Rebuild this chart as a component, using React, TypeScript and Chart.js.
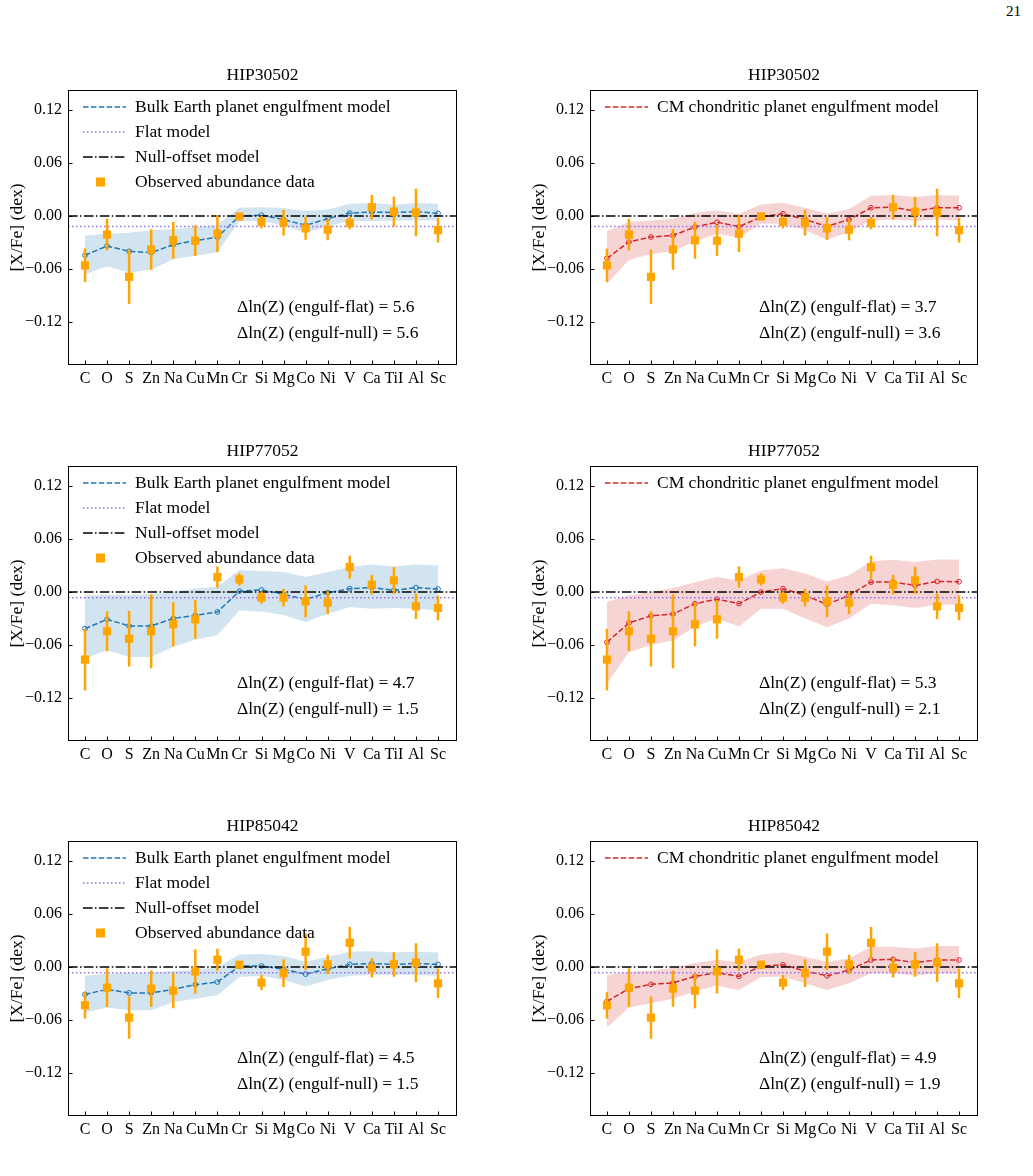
import React, { useEffect, useRef } from 'react';
import { Chart, registerables } from 'chart.js';

Chart.register(...registerables);

// ---------------- data ----------------
const elements = ['C', 'O', 'S', 'Zn', 'Na', 'Cu', 'Mn', 'Cr', 'Si', 'Mg', 'Co', 'Ni', 'V', 'Ca', 'TiI', 'Al', 'Sc'];
const yTickValues = [-0.12, -0.06, 0, 0.06, 0.12];

// HIP30502
const obsHIP30502 = [-0.056, -0.021, -0.069, -0.038, -0.0275, -0.028, -0.020, -0.0005, -0.0068, -0.0075, -0.014, -0.0155, -0.008, 0.010, 0.005, 0.004, -0.016];
const errHIP30502 = [0.019, 0.018, 0.031, 0.023, 0.021, 0.0175, 0.021, 0.004, 0.0072, 0.0147, 0.013, 0.012, 0.007, 0.014, 0.017, 0.027, 0.014];
const bulkHIP30502 = [-0.0445, -0.034, -0.040, -0.0415, -0.0325, -0.028, -0.024, 0.0, 0.001, -0.004, -0.0105, -0.003, 0.0034, 0.0045, 0.004, 0.005, 0.003];
const bulkHiHIP30502 = [-0.022, -0.020, -0.019, -0.016, -0.015, -0.0125, -0.010, 0.0094, 0.010, 0.009, 0.0057, 0.0075, 0.014, 0.0147, 0.0128, 0.0147, 0.014];
const bulkLoHIP30502 = [-0.066, -0.057, -0.064, -0.061, -0.049, -0.045, -0.041, -0.0057, -0.006, -0.0105, -0.019, -0.0117, -0.0057, -0.0057, -0.005, -0.005, -0.005];
const cmHIP30502 = [-0.048, -0.0294, -0.0238, -0.022, -0.0125, -0.007, -0.012, -0.001, 0.0026, -0.004, -0.0117, -0.004, 0.0094, 0.010, 0.0057, 0.0094, 0.0094];
const cmHiHIP30502 = [-0.017, -0.0068, -0.005, -0.003, 0.0038, 0.0064, 0.0026, 0.013, 0.015, 0.0094, 0.0026, 0.008, 0.023, 0.024, 0.0215, 0.024, 0.023];
const cmLoHIP30502 = [-0.077, -0.050, -0.043, -0.040, -0.029, -0.020, -0.0245, -0.0087, -0.0087, -0.016, -0.027, -0.018, -0.005, -0.004, -0.0057, -0.004, -0.005];
const flatHIP30502 = -0.012;

// HIP77052
const obsHIP77052 = [-0.0766, -0.0445, -0.053, -0.0445, -0.0366, -0.031, 0.017, 0.0143, -0.0062, -0.0064, -0.0106, -0.012, 0.0283, 0.0083, 0.0132, -0.0162, -0.018];
const errHIP77052 = [0.035, 0.0226, 0.0315, 0.042, 0.025, 0.022, 0.012, 0.007, 0.007, 0.010, 0.018, 0.013, 0.013, 0.011, 0.0153, 0.0145, 0.014];
const bulkHIP77052 = [-0.0415, -0.031, -0.0385, -0.0385, -0.030, -0.0264, -0.0226, 0.001, 0.0024, -0.0026, -0.0083, -0.0008, 0.0038, 0.005, 0.002, 0.005, 0.0034];
const bulkHiHIP77052 = [-0.004, -0.003, -0.003, -0.0026, 0.0, 0.004, 0.006, 0.025, 0.024, 0.0226, 0.017, 0.0226, 0.0283, 0.0313, 0.029, 0.0313, 0.030];
const bulkLoHIP77052 = [-0.0755, -0.066, -0.0736, -0.0736, -0.062, -0.054, -0.049, -0.0208, -0.022, -0.026, -0.034, -0.025, -0.017, -0.019, -0.018, -0.019, -0.021];
const cmHIP77052 = [-0.057, -0.035, -0.027, -0.025, -0.0132, -0.008, -0.0132, 0.0, 0.0038, -0.0038, -0.014, -0.0038, 0.0113, 0.0113, 0.0075, 0.012, 0.0117];
const cmHiHIP77052 = [-0.011, -0.004, 0.0, 0.0045, 0.011, 0.017, 0.013, 0.0245, 0.027, 0.021, 0.012, 0.019, 0.035, 0.0366, 0.034, 0.037, 0.037];
const cmLoHIP77052 = [-0.104, -0.068, -0.060, -0.055, -0.039, -0.030, -0.039, -0.019, -0.019, -0.030, -0.040, -0.030, -0.0132, -0.015, -0.018, -0.0143, -0.014];
const flatHIP77052 = -0.0065;

// HIP85042
const obsHIP85042 = [-0.0434, -0.0234, -0.0574, -0.0245, -0.0268, -0.005, 0.0083, 0.0026, -0.0176, -0.007, 0.0174, 0.003, 0.0275, -0.0008, 0.003, 0.005, -0.0185];
const errHIP85042 = [0.015, 0.022, 0.024, 0.0207, 0.020, 0.025, 0.0126, 0.003, 0.0085, 0.0157, 0.0207, 0.011, 0.018, 0.011, 0.014, 0.022, 0.0166];
const bulkHIP85042 = [-0.031, -0.0253, -0.0294, -0.0294, -0.0253, -0.020, -0.017, 0.001, 0.0013, -0.0026, -0.008, -0.002, 0.003, 0.004, 0.003, 0.004, 0.003];
const bulkHiHIP85042 = [-0.010, -0.0075, -0.0068, -0.0064, -0.0045, -0.003, 0.0, 0.0143, 0.0148, 0.0125, 0.006, 0.0117, 0.0174, 0.018, 0.0166, 0.0174, 0.0166];
const bulkLoHIP85042 = [-0.052, -0.046, -0.049, -0.049, -0.040, -0.036, -0.032, -0.0113, -0.010, -0.0147, -0.022, -0.0147, -0.010, -0.009, -0.009, -0.009, -0.010];
const cmHIP85042 = [-0.039, -0.0245, -0.0196, -0.018, -0.0106, -0.0064, -0.0106, 0.001, 0.0026, -0.0045, -0.010, -0.0034, 0.008, 0.0087, 0.005, 0.008, 0.008];
const cmHiHIP85042 = [-0.0094, -0.0057, -0.0038, -0.001, 0.0045, 0.0083, 0.0057, 0.0143, 0.0166, 0.0117, 0.006, 0.0098, 0.023, 0.023, 0.021, 0.0238, 0.0238];
const cmLoHIP85042 = [-0.0687, -0.046, -0.041, -0.036, -0.0275, -0.0208, -0.0264, -0.0113, -0.011, -0.0185, -0.026, -0.0185, -0.007, -0.007, -0.010, -0.007, -0.007];
const flatHIP85042 = -0.0065;

// Bayesian evidence differences
const dFlatBulk = ['5.6', '4.7', '4.5'];
const dNullBulk = ['5.6', '1.5', '1.5'];
const dFlatCM = ['3.7', '5.3', '4.9'];
const dNullCM = ['3.6', '2.1', '1.9'];

// ---------------- style ----------------
const FONT = "'Liberation Serif', 'Times New Roman', 'DejaVu Serif', serif";
const ORANGE = '#FFA500';
const BLUE = '#1f77b4';
const RED = '#d62728';
const PURPLE = '#9370DB';
const XMIN = -0.77;
const XMAX = 16.86;
const YMIN = -0.169;
const YMAX = 0.143;
const AX_H = 275;
const PAD_L = 68;
const PAD_T = 40;
const PAD_R = 12;
const PAD_B = 30;
const TICK_FONT = 16;
const TEXT_FONT = 17.5;

const DASHED = [5.5, 2.4];
const DOTTED = [1.5, 2.5];
const DASHDOT = [9.6, 2.4, 1.5, 2.4];

type PanelDef = {
  star: string;
  kind: 'bulk' | 'cm';
  obs: number[];
  err: number[];
  model: number[];
  hi: number[];
  lo: number[];
  flat: number;
  dFlat: string;
  dNull: string;
  axLeft: number;
  axTop: number;
  axW: number;
};

const rows = [
  { star: 'HIP30502', obs: obsHIP30502, err: errHIP30502, bulk: bulkHIP30502, bulkHi: bulkHiHIP30502, bulkLo: bulkLoHIP30502, cm: cmHIP30502, cmHi: cmHiHIP30502, cmLo: cmLoHIP30502, flat: flatHIP30502 },
  { star: 'HIP77052', obs: obsHIP77052, err: errHIP77052, bulk: bulkHIP77052, bulkHi: bulkHiHIP77052, bulkLo: bulkLoHIP77052, cm: cmHIP77052, cmHi: cmHiHIP77052, cmLo: cmLoHIP77052, flat: flatHIP77052 },
  { star: 'HIP85042', obs: obsHIP85042, err: errHIP85042, bulk: bulkHIP85042, bulkHi: bulkHiHIP85042, bulkLo: bulkLoHIP85042, cm: cmHIP85042, cmHi: cmHiHIP85042, cmLo: cmLoHIP85042, flat: flatHIP85042 },
];
const rowTops = [90, 466, 841];

const panels: PanelDef[] = [];
rows.forEach((r, i) => {
  panels.push({ star: r.star, kind: 'bulk', obs: r.obs, err: r.err, model: r.bulk, hi: r.bulkHi, lo: r.bulkLo, flat: r.flat, dFlat: dFlatBulk[i], dNull: dNullBulk[i], axLeft: 68, axTop: rowTops[i], axW: 389 });
  panels.push({ star: r.star, kind: 'cm', obs: r.obs, err: r.err, model: r.cm, hi: r.cmHi, lo: r.cmLo, flat: r.flat, dFlat: dFlatCM[i], dNull: dNullCM[i], axLeft: 590, axTop: rowTops[i], axW: 388 });
});

const fmtY = (v: number) => {
  if (Math.abs(v) < 1e-9) return '0.00';
  return (v < 0 ? '\u2212' : '') + Math.abs(v).toFixed(2);
};

function makeDecor(p: PanelDef) {
  const color = p.kind === 'bulk' ? BLUE : RED;
  const legend =
    p.kind === 'bulk'
      ? [
          { t: 'line', c: BLUE, d: DASHED, w: 1.5, label: 'Bulk Earth planet engulfment model' },
          { t: 'line', c: PURPLE, d: DOTTED, w: 1.5, label: 'Flat model' },
          { t: 'line', c: '#000000', d: DASHDOT, w: 1.5, label: 'Null-offset model' },
          { t: 'square', c: ORANGE, d: [], w: 0, label: 'Observed abundance data' },
        ]
      : [{ t: 'line', c: color, d: DASHED, w: 1.5, label: 'CM chondritic planet engulfment model' }];
  return {
    id: 'decor-' + p.star + p.kind,
    afterDatasetsDraw(chart: any) {
      const { ctx, chartArea: a, scales } = chart;
      const xs = scales.x;
      const ys = scales.y;
      ctx.save();
      ctx.beginPath();
      ctx.rect(a.left, a.top, a.right - a.left, a.bottom - a.top);
      ctx.clip();
      ctx.strokeStyle = ORANGE;
      ctx.lineWidth = 2.5;
      ctx.setLineDash([]);
      p.obs.forEach((v, i) => {
        const x = xs.getPixelForValue(i);
        ctx.beginPath();
        ctx.moveTo(x, ys.getPixelForValue(v - p.err[i]));
        ctx.lineTo(x, ys.getPixelForValue(v + p.err[i]));
        ctx.stroke();
      });
      ctx.restore();
    },
    afterDraw(chart: any) {
      const { ctx, chartArea: a, scales } = chart;
      const xs = scales.x;
      const ys = scales.y;
      ctx.save();
      ctx.setLineDash([]);
      ctx.strokeStyle = '#000';
      ctx.lineWidth = 1;
      ctx.strokeRect(a.left + 0.5, a.top + 0.5, a.right - a.left - 1, a.bottom - a.top - 1);
      // inward ticks
      ctx.beginPath();
      yTickValues.forEach((v) => {
        const y = Math.round(ys.getPixelForValue(v)) + 0.5;
        ctx.moveTo(a.left, y);
        ctx.lineTo(a.left + 4.5, y);
      });
      elements.forEach((_, i) => {
        const x = Math.round(xs.getPixelForValue(i)) + 0.5;
        ctx.moveTo(x, a.bottom);
        ctx.lineTo(x, a.bottom - 4.5);
      });
      ctx.stroke();

      ctx.fillStyle = '#000';
      ctx.font = `${TEXT_FONT}px ${FONT}`;
      // title
      ctx.textAlign = 'center';
      ctx.textBaseline = 'middle';
      ctx.fillText(p.star, (a.left + a.right) / 2, a.top - 15);
      // y label
      ctx.save();
      ctx.translate(17, (a.top + a.bottom) / 2);
      ctx.rotate(-Math.PI / 2);
      ctx.fillText('[X/Fe] (dex)', 0, 0);
      ctx.restore();

      // legend
      legend.forEach((e, k) => {
        const y = a.top + 17 + k * 25;
        if (e.t === 'line') {
          ctx.strokeStyle = e.c;
          ctx.lineWidth = e.w;
          ctx.setLineDash(e.d);
          ctx.beginPath();
          ctx.moveTo(a.left + 15, y);
          ctx.lineTo(a.left + 58, y);
          ctx.stroke();
          ctx.setLineDash([]);
        } else {
          ctx.fillStyle = e.c;
          ctx.fillRect(a.left + 28, y - 4.5, 9, 9);
        }
        ctx.fillStyle = '#000';
        ctx.textAlign = 'left';
        ctx.fillText(e.label, a.left + 67, y);
      });

      // evidence text
      ctx.textAlign = 'left';
      ctx.fillText(`\u0394ln(Z) (engulf-flat) = ${p.dFlat}`, a.left + 169, a.top + 217);
      ctx.fillText(`\u0394ln(Z) (engulf-null) = ${p.dNull}`, a.left + 169, a.top + 243);
      ctx.restore();
    },
  };
}

function PanelChart({ p }: { p: PanelDef }) {
  const ref = useRef<HTMLCanvasElement | null>(null);
  const w = p.axW + PAD_L + PAD_R;
  const h = AX_H + PAD_T + PAD_B;
  useEffect(() => {
    if (!ref.current) return;
    const color = p.kind === 'bulk' ? BLUE : RED;
    const band = p.kind === 'bulk' ? 'rgba(31,119,180,0.2)' : 'rgba(214,39,40,0.2)';
    const pts = (arr: number[]) => arr.map((v, i) => ({ x: i, y: v }));
    const chart = new Chart(ref.current, {
      type: 'scatter',
      data: {
        datasets: [
          {
            label: 'obs',
            data: pts(p.obs),
            showLine: false,
            pointStyle: 'rect',
            pointRadius: 5.8,
            pointBackgroundColor: ORANGE,
            pointBorderColor: ORANGE,
            pointBorderWidth: 0,
          },
          {
            label: 'null',
            data: [{ x: XMIN, y: 0 }, { x: XMAX, y: 0 }],
            showLine: true,
            borderColor: '#000',
            borderWidth: 1.5,
            borderDash: DASHDOT,
            pointRadius: 0,
          },
          {
            label: 'flat',
            data: [{ x: XMIN, y: p.flat }, { x: XMAX, y: p.flat }],
            showLine: true,
            borderColor: PURPLE,
            borderWidth: 1.5,
            borderDash: DOTTED,
            pointRadius: 0,
          },
          {
            label: 'model',
            data: pts(p.model),
            showLine: true,
            borderColor: color,
            borderWidth: 1.5,
            borderDash: DASHED,
            pointRadius: 2.4,
            pointBorderWidth: 1,
            pointBorderColor: color,
            pointBackgroundColor: 'rgba(0,0,0,0)',
          },
          {
            label: 'hi',
            data: pts(p.hi),
            showLine: true,
            borderColor: 'rgba(0,0,0,0)',
            borderWidth: 1,
            pointRadius: 0,
            backgroundColor: band,
            fill: '+1',
          },
          {
            label: 'lo',
            data: pts(p.lo),
            showLine: true,
            borderColor: 'rgba(0,0,0,0)',
            borderWidth: 1,
            pointRadius: 0,
            fill: false,
          },
        ],
      } as any,
      options: {
        responsive: false,
        animation: false,
        devicePixelRatio: 1,
        layout: { padding: { left: 0, top: PAD_T, right: PAD_R, bottom: 0 } },
        plugins: {
          legend: { display: false },
          tooltip: { enabled: false },
          title: { display: false },
        },
        scales: {
          x: {
            type: 'linear',
            min: XMIN,
            max: XMAX,
            grid: { display: false, drawTicks: false },
            border: { display: false },
            afterBuildTicks: (s: any) => {
              s.ticks = elements.map((_, i) => ({ value: i }));
            },
            afterFit: (s: any) => {
              s.height = PAD_B;
            },
            ticks: {
              autoSkip: false,
              maxRotation: 0,
              minRotation: 0,
              padding: 4,
              color: '#000',
              font: { family: FONT, size: TICK_FONT },
              callback: (v: any) => elements[Math.round(Number(v))] ?? '',
            },
          },
          y: {
            type: 'linear',
            min: YMIN,
            max: YMAX,
            grid: { display: false, drawTicks: false },
            border: { display: false },
            afterBuildTicks: (s: any) => {
              s.ticks = yTickValues.map((v) => ({ value: v }));
            },
            afterFit: (s: any) => {
              s.width = PAD_L;
            },
            ticks: {
              padding: 6,
              color: '#000',
              font: { family: FONT, size: TICK_FONT },
              callback: (v: any) => fmtY(Number(v)),
            },
          },
        },
      } as any,
      plugins: [makeDecor(p)],
    });
    return () => chart.destroy();
  }, []);
  return (
    <canvas
      ref={ref}
      width={w}
      height={h}
      style={{ position: 'absolute', left: p.axLeft - PAD_L, top: p.axTop - PAD_T, width: w, height: h }}
    />
  );
}

export default function App() {
  return (
    <div style={{ position: 'absolute', left: 0, top: 0, width: 1033, height: 1176, background: '#fff', overflow: 'hidden' }}>
      <div style={{ position: 'absolute', left: 1006, top: 3, fontFamily: FONT, fontSize: 15, color: '#000' }}>21</div>
      {panels.map((p, i) => (
        <PanelChart key={i} p={p} />
      ))}
    </div>
  );
}
